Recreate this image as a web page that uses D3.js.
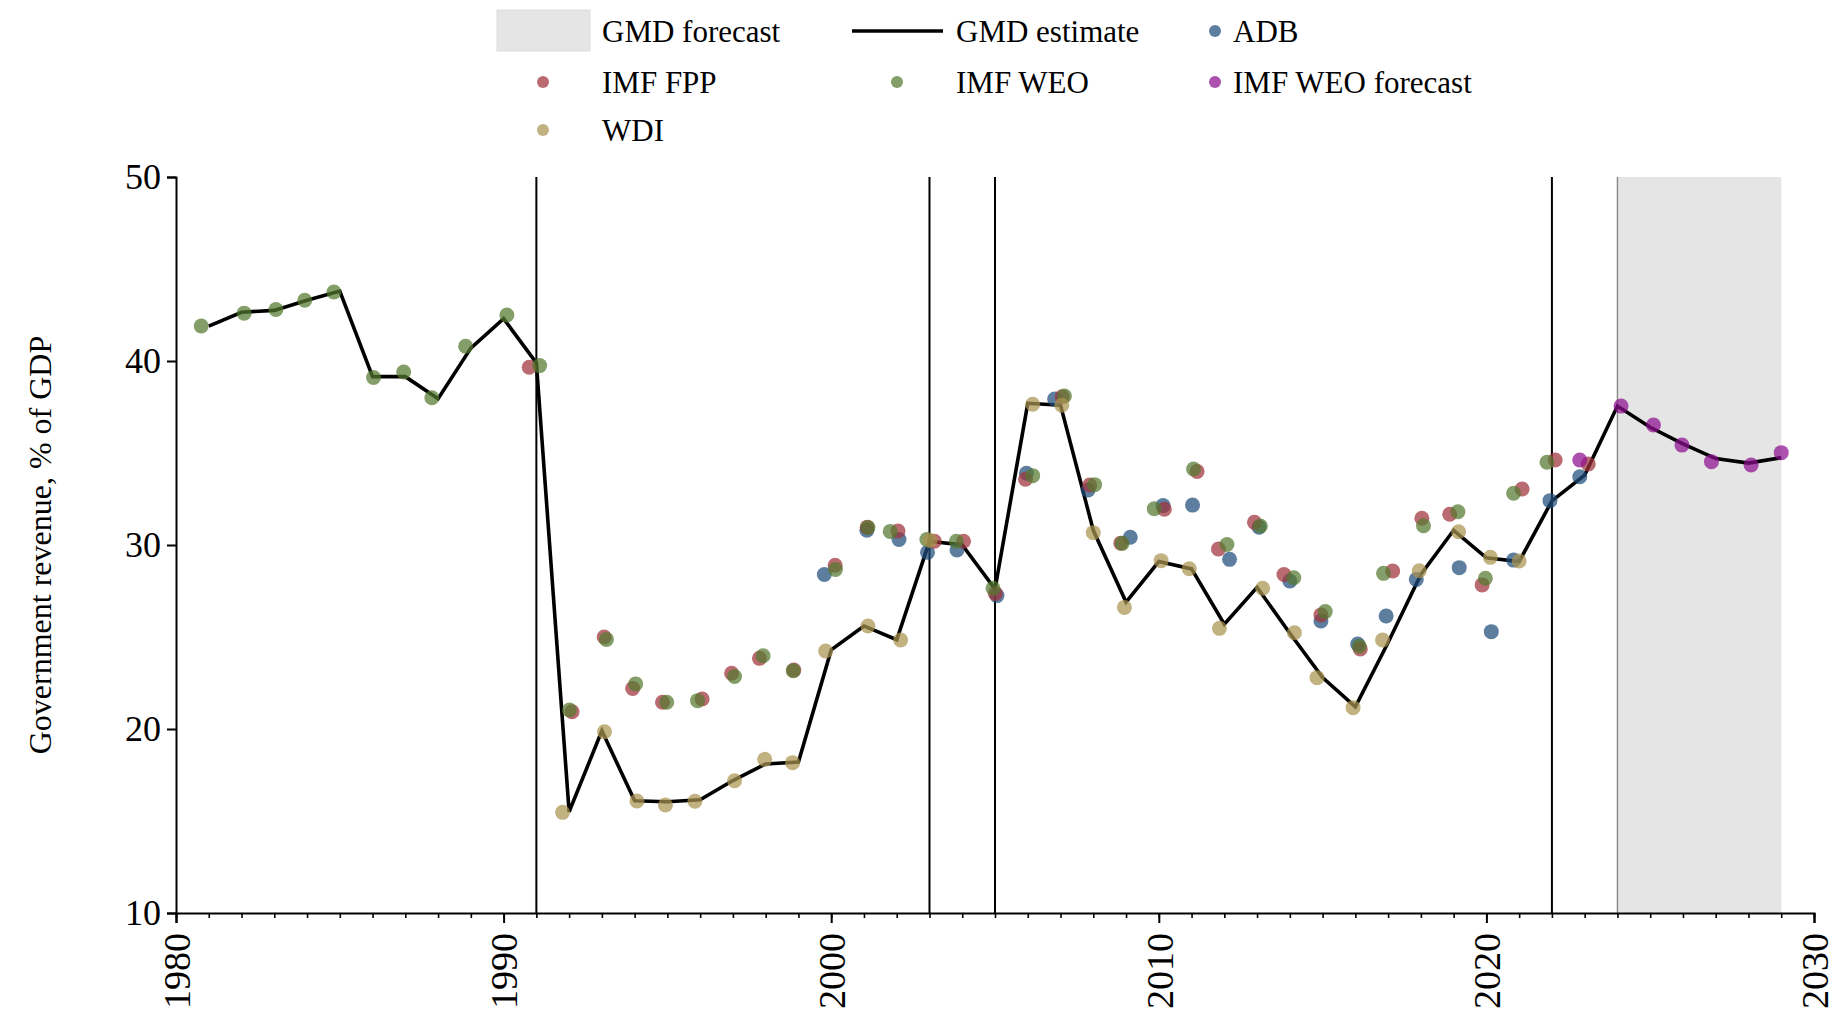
<!DOCTYPE html>
<html>
<head>
<meta charset="utf-8">
<script src="https://cdn.jsdelivr.net/npm/d3@7"></script>
<style>
  html, body { margin: 0; padding: 0; background: #fff; }
  svg { display: block; }
  text { font-family: "Liberation Serif", "Times New Roman", Times, serif; fill: #000; }
</style>
</head>
<body>
<svg id="chart" width="1837" height="1016"></svg>
<script>
// ---------------- DATA ----------------
const gmdYears = [1981,1982,1983,1984,1985,1986,1987,1988,1989,1990,1991,1992,1993,1994,1995,1996,1997,1998,1999,2000,
  2001,2002,2003,2004,2005,2006,2007,2008,2009,2010,2011,2012,2013,2014,2015,2016,2017,2018,2019,2020,2021,2022,2023,
  2024,2025,2026,2027,2028,2029];
const gmdValues = [41.9,42.65,42.75,43.3,43.8,39.15,39.15,37.95,40.7,42.3,39.9,15.5,19.9,16.1,16.05,16.15,17.2,18.1,18.2,24.3,
  25.6,24.85,30.2,30.0,27.6,37.7,37.6,30.8,26.9,29.1,28.7,25.7,27.7,25.2,22.8,21.2,24.7,28.4,30.8,29.3,29.1,32.4,33.8,
  37.55,36.4,35.5,34.7,34.45,34.75];

// Dot positions (year, as read with jitter) and values
const adbX = [1999.79,2001.09,2002.07,2002.94,2003.84,2005.06,2005.96,2006.82,2007.84,2009.13,2010.13,2011.03,2012.16,2013.06,
  2014.0,2014.95,2016.07,2016.94,2017.86,2019.17,2020.15,2020.83,2021.94,2022.85];
const adbValues = [28.4,30.8,30.3,29.6,29.73,27.25,33.9,37.93,32.99,30.42,32.14,32.17,29.22,30.97,
  28.04,25.87,24.62,26.14,28.13,28.77,25.29,29.18,32.41,33.71];

const fppX = [1990.78,1992.09,1993.07,1993.94,1994.85,1996.06,1996.96,1997.81,1998.86,2000.12,2001.10,2002.04,2003.15,2004.04,
  2005.01,2005.93,2007.05,2007.89,2008.84,2010.17,2011.17,2011.82,2012.92,2013.82,2014.95,2016.15,2017.14,2018.03,2018.88,
  2019.87,2021.09,2022.10,2023.11];
const fppValues = [39.66,20.94,25.0,22.2,21.45,21.63,23.03,23.84,23.2,28.9,30.97,30.76,30.2,30.2,
  27.37,33.57,38.06,33.26,30.1,31.94,34.0,29.78,31.23,28.4,26.2,24.35,28.59,31.45,31.67,
  27.83,33.04,34.62,34.4];

const weoX = [1980.77,1982.08,1983.05,1983.93,1984.82,1986.03,1986.95,1987.81,1988.84,1990.10,1991.10,1992.01,1993.14,1994.03,
  1994.98,1995.92,1997.05,1997.92,1998.84,2000.13,2001.12,2001.80,2002.92,2003.82,2004.94,2006.15,2007.12,2008.04,2008.88,
  2009.86,2011.06,2012.08,2013.10,2014.12,2015.08,2016.12,2016.86,2018.08,2019.13,2019.97,2020.83,2021.85];
const weoValues = [41.9,42.6,42.8,43.3,43.75,39.1,39.4,38.0,40.8,42.5,39.75,21.03,24.87,22.45,
  21.45,21.54,22.85,23.98,23.17,28.67,30.95,30.74,30.3,30.2,27.65,33.77,38.1,33.28,30.09,
  31.97,34.13,30.03,31.03,28.22,26.38,24.5,28.46,31.05,31.81,28.19,32.81,34.5];

const wdiX = [1991.80,1993.08,1994.07,1994.94,1995.84,1997.05,1997.97,1998.82,1999.83,2001.12,2002.12,2003.02,
  2006.15,2007.04,2008.0,2008.95,2010.07,2010.93,2011.85,2013.17,2014.14,2014.83,2015.93,2016.83,2017.95,2019.15,
  2020.12,2021.0];
const wdiValues = [15.47,19.85,16.09,15.87,16.07,17.19,18.35,18.17,24.24,25.6,24.84,30.25,
  37.65,37.6,30.67,26.61,29.15,28.71,25.47,27.65,25.23,22.79,21.16,24.84,28.6,30.72,
  29.33,29.13];

const weoForecastX = [2022.85,2024.11,2025.10,2025.97,2026.87,2028.08,2029.0];
const weoForecastValues = [34.62,37.55,36.52,35.43,34.53,34.35,35.02];

const breakYears = [1991, 2003, 2005, 2022];
const forecastRange = [2024, 2029];

const xTicks = [1980, 1990, 2000, 2010, 2020, 2030];
const yTicks = [10, 20, 30, 40, 50];

const seriesNames = ["ADB", "IMF FPP", "IMF WEO", "WDI", "IMF WEO forecast"];
const seriesColors = ["#1f4c7a", "#9f323c", "#54782f", "#aa9350", "#8c0e8e"];

// ---------------- LAYOUT ----------------
const svg = d3.select("#chart");
const margin = { left: 176, right: 23, top: 177, bottom: 103 };
const W = 1837, H = 1016;
const x = d3.scaleLinear().domain([1980, 2030]).range([margin.left, W - margin.right]);
const y = d3.scaleLinear().domain([10, 50]).range([H - margin.bottom, margin.top]);

// forecast shading
svg.append("rect")
  .attr("x", x(forecastRange[0])).attr("y", y(50))
  .attr("width", x(forecastRange[1]) - x(forecastRange[0]))
  .attr("height", y(10) - y(50))
  .attr("fill", "#e5e5e5");
svg.append("line")
  .attr("x1", x(forecastRange[0])).attr("x2", x(forecastRange[0]))
  .attr("y1", y(50)).attr("y2", y(10))
  .attr("stroke", "#888").attr("stroke-width", 1.4);

// structural break lines
svg.selectAll("line.brk").data(breakYears).enter().append("line")
  .attr("class", "brk")
  .attr("x1", d => x(d)).attr("x2", d => x(d))
  .attr("y1", y(50)).attr("y2", y(10))
  .attr("stroke", "#000").attr("stroke-width", 2);

// GMD line
const lineData = gmdYears.map((yr, i) => [yr, gmdValues[i]]);
svg.append("path")
  .datum(lineData)
  .attr("fill", "none").attr("stroke", "#000").attr("stroke-width", 3.6)
  .attr("stroke-linejoin", "miter")
  .attr("d", d3.line().x(d => x(d[0])).y(d => y(d[1])));

// dots
const seriesX = [adbX, fppX, weoX, wdiX, weoForecastX];
const seriesV = [adbValues, fppValues, weoValues, wdiValues, weoForecastValues];
seriesX.forEach((xs, s) => {
  svg.append("g").selectAll("circle")
    .data(xs.map((xx, i) => [xx, seriesV[s][i]]))
    .enter().append("circle")
    .attr("cx", d => x(d[0])).attr("cy", d => y(d[1]))
    .attr("r", 7.5)
    .attr("fill", seriesColors[s]).attr("fill-opacity", 0.72);
});

// axes
const yAxis = d3.axisLeft(y).tickValues(yTicks).tickSize(9).tickPadding(6).tickFormat(d3.format("d"));
const gy = svg.append("g").attr("transform", `translate(${margin.left},0)`).call(yAxis);
gy.attr("font-family", null);
gy.select(".domain").attr("stroke-width", 2);
gy.selectAll(".tick line").attr("stroke-width", 2);
gy.selectAll(".tick text").attr("font-family", "Liberation Serif").style("font-size", "36px");

const minorYears = d3.range(1980, 2031);
const gxm = svg.append("g").attr("transform", `translate(0,${y(10)})`)
  .call(d3.axisBottom(x).tickValues(minorYears).tickSize(5).tickFormat(""));
gxm.select(".domain").remove();
gxm.selectAll(".tick line").attr("stroke-width", 1.6);

const gx = svg.append("g").attr("transform", `translate(0,${y(10)})`)
  .call(d3.axisBottom(x).tickValues(xTicks).tickSize(10).tickPadding(8).tickFormat(d3.format("d")));
gx.attr("font-family", null);
gx.select(".domain").attr("stroke-width", 2);
gx.selectAll(".tick line").attr("stroke-width", 2);
gx.selectAll(".tick text")
  .attr("font-family", "Liberation Serif").style("font-size", "38px")
  .attr("transform", "rotate(-90)")
  .attr("text-anchor", "end")
  .attr("x", -20).attr("y", 0).attr("dy", "0.35em");

// y title
svg.append("text")
  .attr("transform", `translate(40,${(y(10) + y(50)) / 2}) rotate(-90)`)
  .attr("text-anchor", "middle").attr("dy", "0.35em")
  .style("font-size", "32px")
  .text("Government revenue, % of GDP");

// legend
const leg = svg.append("g").style("font-size", "31px");
// GMD forecast
leg.append("rect").attr("x", 497).attr("y", 10).attr("width", 93).attr("height", 41)
  .attr("fill", "#e5e5e5").attr("stroke", "#dcdcdc").attr("stroke-width", 1);
leg.append("text").attr("x", 602).attr("y", 31).attr("dy", "0.35em").text("GMD forecast");
// GMD estimate
leg.append("line").attr("x1", 852).attr("x2", 943).attr("y1", 31).attr("y2", 31)
  .attr("stroke", "#000").attr("stroke-width", 3.6);
leg.append("text").attr("x", 956).attr("y", 31).attr("dy", "0.35em").text("GMD estimate");

const legendItems = [
  { name: seriesNames[0], color: seriesColors[0], cx: 1215, tx: 1233, cy: 31 },
  { name: seriesNames[1], color: seriesColors[1], cx: 543, tx: 602, cy: 82 },
  { name: seriesNames[2], color: seriesColors[2], cx: 897, tx: 956, cy: 82 },
  { name: seriesNames[4], color: seriesColors[4], cx: 1215, tx: 1233, cy: 82 },
  { name: seriesNames[3], color: seriesColors[3], cx: 543, tx: 602, cy: 130 }
];
legendItems.forEach(it => {
  leg.append("circle").attr("cx", it.cx).attr("cy", it.cy).attr("r", 6)
    .attr("fill", it.color).attr("fill-opacity", 0.72);
  leg.append("text").attr("x", it.tx).attr("y", it.cy).attr("dy", "0.35em").text(it.name);
});
</script>
</body>
</html>
